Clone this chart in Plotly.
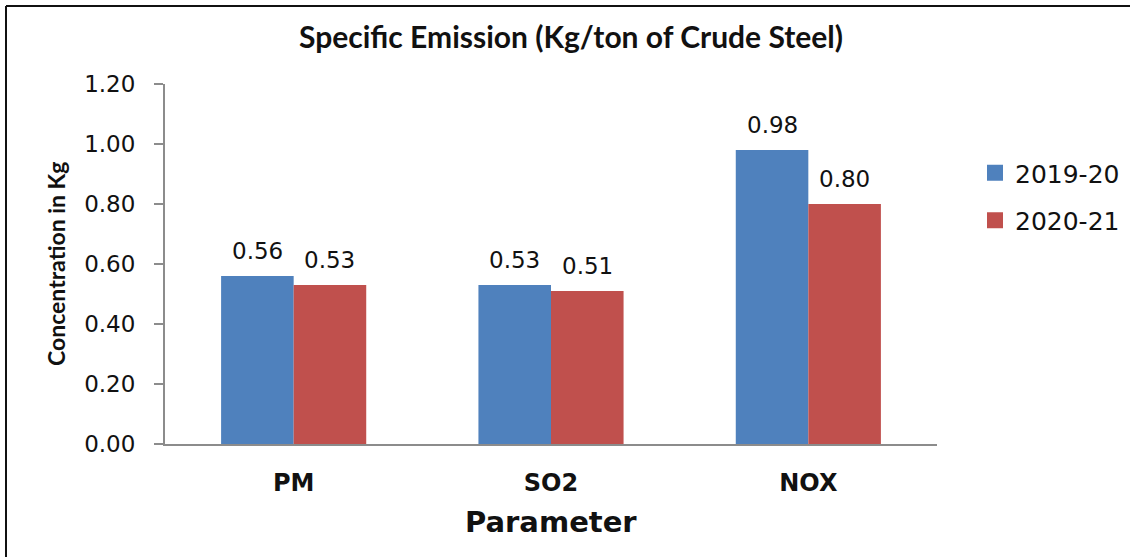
import plotly.graph_objects as go

categories = ["PM", "SO2", "NOX"]
series_names = ["2019-20", "2020-21"]
values_2019_20 = [0.56, 0.53, 0.98]
values_2020_21 = [0.53, 0.51, 0.80]
colors = ["#4F81BD", "#C0504D"]
y_ticks = [0.0, 0.2, 0.4, 0.6, 0.8, 1.0, 1.2]

W, H = 1130, 557
L, R, T, B = 165, 193, 84, 113
BAR_PX = 72.5  # bar width in pixels, for label offsets

fig = go.Figure()
all_vals = [values_2019_20, values_2020_21]
for name, vals, col in zip(series_names, all_vals, colors):
    fig.add_trace(go.Bar(
        x=categories, y=vals, name=name, marker=dict(color=col, line=dict(width=0)),
        showlegend=False,
    ))
for i, (name, col) in enumerate(zip(series_names, colors)):
    fig.add_trace(go.Scatter(
        x=[None], y=[None], mode="markers", name=name, legendgroup=f"g{i}",
        marker=dict(symbol="square", size=20, color=col),
    ))

# value labels above bars
for i, vals in enumerate(all_vals):
    shift = (i - 0.5) * BAR_PX
    for c, v in zip(categories, vals):
        fig.add_annotation(x=c, y=v, text=f"{v:.2f}", showarrow=False,
                           xshift=shift, yshift=10, yanchor="bottom",
                           font=dict(family="DejaVu Sans", size=23, color="#111111"))

pw = W - L - R
ph = H - T - B
def px(x):
    return (x - L) / pw
def py(y):
    return (H - B - y) / ph

fig.update_layout(
    width=W, height=H,
    margin=dict(l=L, r=R, t=T, b=B, autoexpand=False),
    paper_bgcolor="white", plot_bgcolor="white",
    barmode="group", bargap=0.436, bargroupgap=0,
    title=dict(text="<b>Specific Emission (Kg/ton of Crude Steel)</b>",
               x=571 / W, xanchor="center", y=1 - 37 / H, yanchor="middle",
               font=dict(family="Lato", size=30, color="#111111")),
    legend=dict(x=px(975), y=py(150), xanchor="left", yanchor="top",
                font=dict(family="DejaVu Sans", size=25, color="#111111"),
                tracegroupgap=12, bgcolor="rgba(0,0,0,0)"),
    font=dict(family="DejaVu Sans", color="#111111"),
)
fig.update_xaxes(
    showline=True, linecolor="#8c8c8c", linewidth=2, ticks="",
    tickfont=dict(family="DejaVu Sans", size=24, color="#111111"),
    tickprefix="<b>", ticksuffix="</b>",
    ticklabelstandoff=16, showgrid=False, zeroline=False,
)
fig.update_yaxes(
    range=[0, 1.2], tickvals=y_ticks, ticktext=[f"{v:.2f}" for v in y_ticks],
    showline=True, linecolor="#8c8c8c", linewidth=2,
    ticks="outside", ticklen=9, tickcolor="#8c8c8c", tickwidth=2,
    tickfont=dict(family="DejaVu Sans", size=23, color="#111111"),
    ticklabelstandoff=14, showgrid=False, zeroline=False,
)

fig.add_annotation(text="<b>Concentration in Kg</b>", textangle=-90,
                   xref="paper", yref="paper", x=px(56), y=py(264),
                   xanchor="center", yanchor="middle", showarrow=False,
                   font=dict(family="Lato", size=23, color="#111111"))
fig.add_annotation(text="<b>Parameter</b>",
                   xref="paper", yref="paper", x=px(551), y=py(522),
                   xanchor="center", yanchor="middle", showarrow=False,
                   font=dict(family="DejaVu Sans", size=29, color="#111111"))

# outer frame (top and left edges visible)
fig.add_shape(type="line", xref="paper", yref="paper", x0=px(6), x1=px(W + 5),
              y0=py(6), y1=py(6), line=dict(color="#111111", width=2))
fig.add_shape(type="line", xref="paper", yref="paper", x0=px(6), x1=px(6),
              y0=py(6), y1=py(H + 5), line=dict(color="#111111", width=2))

fig.write_html("out.html", config={"displayModeBar": False},
               post_script="document.body.style.margin='0px';")
